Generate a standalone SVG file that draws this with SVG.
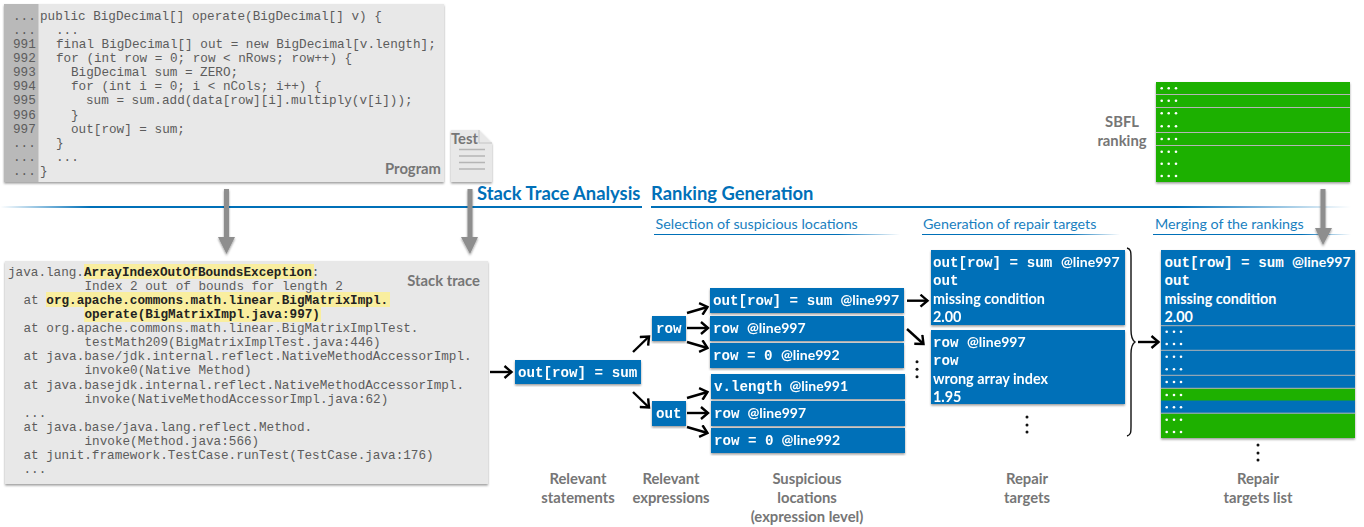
<svg xmlns="http://www.w3.org/2000/svg" width="1364" height="527" viewBox="0 0 1364 527">
<style>
text{white-space:pre}
.m{font-family:"Liberation Mono",monospace;font-size:12.67px;fill:#5c5c5c}
.h{font-weight:700;fill:#222}
.l{font-family:Lato,"Noto Sans",sans-serif;font-size:14.8px;font-weight:700;fill:#767676;text-anchor:middle}
.t{font-family:Lato,"Noto Sans",sans-serif;font-size:18.4px;font-weight:700;fill:#0070b8}
.u{font-family:Lato,"Noto Sans",sans-serif;font-size:14.3px;fill:#1a7fc0}
.b{fill:#0070b8}.g{fill:#1eb000}
.w{font-family:"Liberation Mono",monospace;font-size:14.2px;fill:#fff;font-weight:700}
.a{font-family:Lato,"Noto Sans",sans-serif;font-size:14.4px;font-weight:700;fill:#fff}
.n{font-family:Lato,"Noto Sans",sans-serif;font-size:14px;font-weight:700;fill:#fff}
.c{fill:none;stroke:#000;stroke-width:2.400}
.d{fill:#fff}.k{fill:#111}
.sep{stroke:#b5b5b5;stroke-width:1}
</style>
<defs>
<filter id="sh" x="-5%" y="-5%" width="110%" height="115%"><feDropShadow dx="0" dy="1.500" stdDeviation="1.300" flood-color="#000" flood-opacity=".4"/></filter>
<linearGradient id="g1" gradientUnits="userSpaceOnUse" x1="0" y1="0" x2="90" y2="0"><stop offset="0" stop-color="#0070b8" stop-opacity="0"/><stop offset="1" stop-color="#0070b8"/></linearGradient>
<linearGradient id="g2"><stop offset="0" stop-color="#0070b8"/><stop offset=".75" stop-color="#0070b8"/><stop offset="1" stop-color="#0070b8" stop-opacity="0"/></linearGradient>
<marker id="ah" markerWidth="12" markerHeight="14" refX="10" refY="7" orient="auto" markerUnits="userSpaceOnUse"><path d="M3 1 L10 7 L3 13" fill="none" stroke="#000" stroke-width="2.400"/></marker>
</defs>

<g id="header-lines">
<rect x="0" y="206" width="642" height="2" fill="url(#g1)"/>
<rect x="651" y="206" width="700" height="2" fill="url(#g2)"/>
<rect x="654" y="234" width="246" height="1" fill="url(#g2)"/>
<rect x="922" y="234" width="198" height="1" fill="url(#g2)"/>
<rect x="1153" y="234" width="198" height="1" fill="url(#g2)"/>
<text class="t" x="477" y="200">Stack Trace Analysis</text>
<text class="t" x="651" y="200">Ranking Generation</text>
<text class="u" x="655.500" y="229">Selection of suspicious locations</text>
<text class="u" x="923" y="229">Generation of repair targets</text>
<text class="u" x="1155" y="229">Merging of the rankings</text>
</g>

<g id="program">
<rect x="4" y="4" width="440" height="178" fill="#e8e8e8" filter="url(#sh)"/>
<rect x="4" y="4" width="34.500" height="178" fill="#b9b9b9"/>
<text class="m" x="13" y="20">...</text>
<text class="m" x="13" y="34">...</text>
<text class="m" x="13" y="47.500">991</text>
<text class="m" x="13" y="61.500">992</text>
<text class="m" x="13" y="76">993</text>
<text class="m" x="13" y="90">994</text>
<text class="m" x="13" y="104">995</text>
<text class="m" x="13" y="118.500">996</text>
<text class="m" x="13" y="132.500">997</text>
<text class="m" x="13" y="147">...</text>
<text class="m" x="13" y="161">...</text>
<text class="m" x="13" y="175">...</text>
<text class="m" x="40" y="20">public BigDecimal[] operate(BigDecimal[] v) {</text>
<text class="m" x="56" y="34">...</text>
<text class="m" x="56" y="47.500">final BigDecimal[] out = new BigDecimal[v.length];</text>
<text class="m" x="56" y="61.500">for (int row = 0; row &lt; nRows; row++) {</text>
<text class="m" x="71" y="76">BigDecimal sum = ZERO;</text>
<text class="m" x="71" y="90">for (int i = 0; i &lt; nCols; i++) {</text>
<text class="m" x="86" y="104">sum = sum.add(data[row][i].multiply(v[i]));</text>
<text class="m" x="71" y="118.500">}</text>
<text class="m" x="71" y="132.500">out[row] = sum;</text>
<text class="m" x="56" y="147">}</text>
<text class="m" x="56" y="161">...</text>
<text class="m" x="40" y="175">}</text>
<text class="l" x="441" y="174" style="text-anchor:end">Program</text>
</g>

<g id="test">
<path d="M451 130H479L492 143V182H451Z" fill="#e8e8e8" filter="url(#sh)"/>
<path d="M479 130V143H492" fill="none" stroke="#c4c4c4"/>
<path d="M459 149.500H485M459 156H485M459 162.500H485M459 169H485" stroke="#b5b5b5" stroke-width="1.300"/>
<text class="l" x="451" y="144" style="text-anchor:start">Test</text>
</g>

<g id="stack-trace">
<rect x="5" y="261" width="483" height="223" fill="#e8e8e8" filter="url(#sh)"/>
<rect x="84" y="264" width="230" height="15" fill="#f9ee9f"/>
<rect x="46" y="292" width="344" height="15" fill="#f9ee9f"/>
<rect x="84" y="307" width="237" height="15" fill="#f9ee9f"/>
<text class="m" x="8" y="276">java.lang.<tspan class="h">ArrayIndexOutOfBoundsException</tspan>:</text>
<text class="m" x="84.500" y="290">Index 2 out of bounds for length 2</text>
<text class="m" x="23.500" y="304">at <tspan class="h">org.apache.commons.math.linear.BigMatrixImpl.</tspan></text>
<text class="m h" x="84.500" y="318">operate(BigMatrixImpl.java:997)</text>
<text class="m" x="23.500" y="332">at org.apache.commons.math.linear.BigMatrixImplTest.</text>
<text class="m" x="84.500" y="346">testMath209(BigMatrixImplTest.java:446)</text>
<text class="m" x="23.500" y="360">at java.base/jdk.internal.reflect.NativeMethodAccessorImpl.</text>
<text class="m" x="84.500" y="373.500">invoke0(Native Method)</text>
<text class="m" x="23.500" y="388.500">at java.basejdk.internal.reflect.NativeMethodAccessorImpl.</text>
<text class="m" x="84.500" y="402.500">invoke(NativeMethodAccessorImpl.java:62)</text>
<text class="m" x="23.500" y="417">...</text>
<text class="m" x="23.500" y="430.500">at java.base/java.lang.reflect.Method.</text>
<text class="m" x="84.500" y="444.500">invoke(Method.java:566)</text>
<text class="m" x="23.500" y="458.500">at junit.framework.TestCase.runTest(TestCase.java:176)</text>
<text class="m" x="23.500" y="473">...</text>
<text class="l" x="480" y="286" style="text-anchor:end">Stack trace</text>
</g>

<g id="stmt" filter="url(#sh)"><rect class="b" x="515" y="360" width="126" height="24"/><text class="w" x="518" y="376.500">out[row] = sum</text></g>
<g id="expr-row" filter="url(#sh)"><rect class="b" x="652" y="316" width="34" height="25"/><text class="w" x="656" y="333">row</text></g>
<g id="expr-out" filter="url(#sh)"><rect class="b" x="652" y="401" width="34" height="25"/><text class="w" x="656" y="418">out</text></g>

<g id="loc1" filter="url(#sh)"><rect class="b" x="710" y="288" width="194" height="25"/><text class="w" x="713" y="305">out[row] = sum</text><text class="n" x="840.500" y="305">@line997</text></g>
<g id="loc2" filter="url(#sh)"><rect class="b" x="710" y="316" width="194" height="25"/><text class="w" x="713" y="333">row</text><text class="n" x="747" y="333">@line997</text></g>
<g id="loc3" filter="url(#sh)"><rect class="b" x="710" y="343" width="194" height="25"/><text class="w" x="713" y="360">row = 0</text><text class="n" x="781" y="360">@line992</text></g>
<g id="loc4" filter="url(#sh)"><rect class="b" x="711" y="374" width="194" height="25"/><text class="w" x="714" y="391">v.length</text><text class="n" x="789.500" y="391">@line991</text></g>
<g id="loc5" filter="url(#sh)"><rect class="b" x="711" y="401" width="194" height="25"/><text class="w" x="714" y="418">row</text><text class="n" x="747.500" y="418">@line997</text></g>
<g id="loc6" filter="url(#sh)"><rect class="b" x="711" y="428" width="194" height="25"/><text class="w" x="714" y="445">row = 0</text><text class="n" x="781.500" y="445">@line992</text></g>

<g id="target1" filter="url(#sh)"><rect class="b" x="931" y="250" width="194" height="75"/>
<text class="w" x="933" y="267">out[row] = sum</text><text class="n" x="1061" y="267">@line997</text>
<text class="w" x="933" y="285">out</text><text class="a" x="933" y="303.500">missing condition</text><text class="a" x="933" y="322">2.00</text></g>
<g id="target2" filter="url(#sh)"><rect class="b" x="931" y="330" width="194" height="74"/>
<text class="w" x="933" y="347">row</text><text class="n" x="967" y="347">@line997</text>
<text class="w" x="933" y="365">row</text><text class="a" x="933" y="384">wrong array index</text><text class="a" x="933" y="402">1.95</text></g>

<g id="repair-list">
<rect class="b" x="1161" y="250" width="194" height="188" filter="url(#sh)"/>
<rect class="g" x="1161" y="388" width="194" height="12.500"/>
<rect class="g" x="1161" y="413.500" width="194" height="24.500"/>
<path class="sep" d="M1161 325.700H1355M1161 350.300H1355M1161 375.300H1355M1161 388.300H1355M1161 413.200H1355"/>
<text class="w" x="1164.500" y="267">out[row] = sum</text><text class="n" x="1292" y="267">@line997</text>
<text class="w" x="1164.500" y="285">out</text><text class="a" x="1164.500" y="303.500">missing condition</text><text class="a" x="1164.500" y="322">2.00</text>
<g class="d">
<circle cx="1166.700" cy="331.700" r="1.300"/><circle cx="1174" cy="331.700" r="1.300"/><circle cx="1181" cy="331.700" r="1.300"/>
<circle cx="1166.700" cy="344" r="1.300"/><circle cx="1174" cy="344" r="1.300"/><circle cx="1181" cy="344" r="1.300"/>
<circle cx="1166.700" cy="356.700" r="1.300"/><circle cx="1174" cy="356.700" r="1.300"/><circle cx="1181" cy="356.700" r="1.300"/>
<circle cx="1166.700" cy="369.300" r="1.300"/><circle cx="1174" cy="369.300" r="1.300"/><circle cx="1181" cy="369.300" r="1.300"/>
<circle cx="1166.700" cy="382" r="1.300"/><circle cx="1174" cy="382" r="1.300"/><circle cx="1181" cy="382" r="1.300"/>
<circle cx="1166.700" cy="395" r="1.300"/><circle cx="1174" cy="395" r="1.300"/><circle cx="1181" cy="395" r="1.300"/>
<circle cx="1166.700" cy="407.300" r="1.300"/><circle cx="1174" cy="407.300" r="1.300"/><circle cx="1181" cy="407.300" r="1.300"/>
<circle cx="1166.700" cy="419.700" r="1.300"/><circle cx="1174" cy="419.700" r="1.300"/><circle cx="1181" cy="419.700" r="1.300"/>
<circle cx="1166.700" cy="432" r="1.300"/><circle cx="1174" cy="432" r="1.300"/><circle cx="1181" cy="432" r="1.300"/>
</g>
</g>

<g id="sbfl">
<rect class="g" x="1156" y="82" width="194" height="100" filter="url(#sh)"/>
<path class="sep" d="M1156 94.500H1350M1156 107.500H1350M1156 132.500H1350M1156 145.500H1350"/>
<g class="d">
<circle cx="1161.700" cy="88.300" r="1.300"/><circle cx="1168.700" cy="88.300" r="1.300"/><circle cx="1176" cy="88.300" r="1.300"/>
<circle cx="1161.700" cy="100.700" r="1.300"/><circle cx="1168.700" cy="100.700" r="1.300"/><circle cx="1176" cy="100.700" r="1.300"/>
<circle cx="1161.700" cy="113.300" r="1.300"/><circle cx="1168.700" cy="113.300" r="1.300"/><circle cx="1176" cy="113.300" r="1.300"/>
<circle cx="1161.700" cy="126.300" r="1.300"/><circle cx="1168.700" cy="126.300" r="1.300"/><circle cx="1176" cy="126.300" r="1.300"/>
<circle cx="1161.700" cy="139" r="1.300"/><circle cx="1168.700" cy="139" r="1.300"/><circle cx="1176" cy="139" r="1.300"/>
<circle cx="1161.700" cy="151.700" r="1.300"/><circle cx="1168.700" cy="151.700" r="1.300"/><circle cx="1176" cy="151.700" r="1.300"/>
<circle cx="1161.700" cy="163.700" r="1.300"/><circle cx="1168.700" cy="163.700" r="1.300"/><circle cx="1176" cy="163.700" r="1.300"/>
<circle cx="1161.700" cy="176" r="1.300"/><circle cx="1168.700" cy="176" r="1.300"/><circle cx="1176" cy="176" r="1.300"/>
</g>
<text class="l" x="1122" y="127">SBFL</text>
<text class="l" x="1122" y="146">ranking</text>
</g>

<g id="captions">
<text class="l" x="578" y="484">Relevant</text><text class="l" x="578" y="503">statements</text>
<text class="l" x="671" y="484">Relevant</text><text class="l" x="671" y="503">expressions</text>
<text class="l" x="807" y="484">Suspicious</text><text class="l" x="807" y="503">locations</text><text class="l" x="807" y="522">(expression level)</text>
<text class="l" x="1027" y="484">Repair</text><text class="l" x="1027" y="503">targets</text>
<text class="l" x="1258" y="484">Repair</text><text class="l" x="1258" y="503">targets list</text>
</g>

<g id="ellipses" class="k">
<circle cx="917" cy="361.700" r="1.500"/><circle cx="917" cy="369.300" r="1.500"/><circle cx="917" cy="376.700" r="1.500"/>
<circle cx="1027" cy="417" r="1.500"/><circle cx="1027" cy="425" r="1.500"/><circle cx="1027" cy="432" r="1.500"/>
<circle cx="1258" cy="445" r="1.500"/><circle cx="1258" cy="453" r="1.500"/><circle cx="1258" cy="460" r="1.500"/>
</g>

<g id="connectors">
<g fill="#8e8e8e" filter="url(#sh)">
<path d="M224 189H229V237H235L226.500 254L218 237H224Z"/>
<path d="M467.500 189H472.500V237H478L470 254L461 237H467.500Z"/>
<path d="M1320.500 189H1325.500V228H1332L1323 245L1315 228H1320.500Z"/>
</g>
<g class="c">
<line x1="490" y1="372" x2="511.500" y2="372" marker-end="url(#ah)"/>
<line x1="633" y1="352" x2="649" y2="336.500" marker-end="url(#ah)"/>
<line x1="633" y1="392" x2="649" y2="407.500" marker-end="url(#ah)"/>
<line x1="687" y1="313" x2="707.500" y2="307" marker-end="url(#ah)"/>
<line x1="687" y1="328" x2="708" y2="328" marker-end="url(#ah)"/>
<line x1="687" y1="342" x2="707.500" y2="348" marker-end="url(#ah)"/>
<line x1="687" y1="398" x2="707.500" y2="392" marker-end="url(#ah)"/>
<line x1="687" y1="413" x2="708" y2="413" marker-end="url(#ah)"/>
<line x1="687" y1="427" x2="707.500" y2="433" marker-end="url(#ah)"/>
<line x1="907" y1="300.700" x2="927.500" y2="300.700" marker-end="url(#ah)"/>
<line x1="907" y1="329" x2="923.500" y2="344" marker-end="url(#ah)"/>
<line x1="1138" y1="342" x2="1158.500" y2="342" marker-end="url(#ah)"/>
</g>
<path d="M1127 248C1131 249 1131 252 1131 258V330C1131 337 1132 340 1135 342C1132 344 1131 347 1131 354V426C1131 432 1131 435 1127 436" fill="none" stroke="#111" stroke-width="1.400"/>
</g>
</svg>
